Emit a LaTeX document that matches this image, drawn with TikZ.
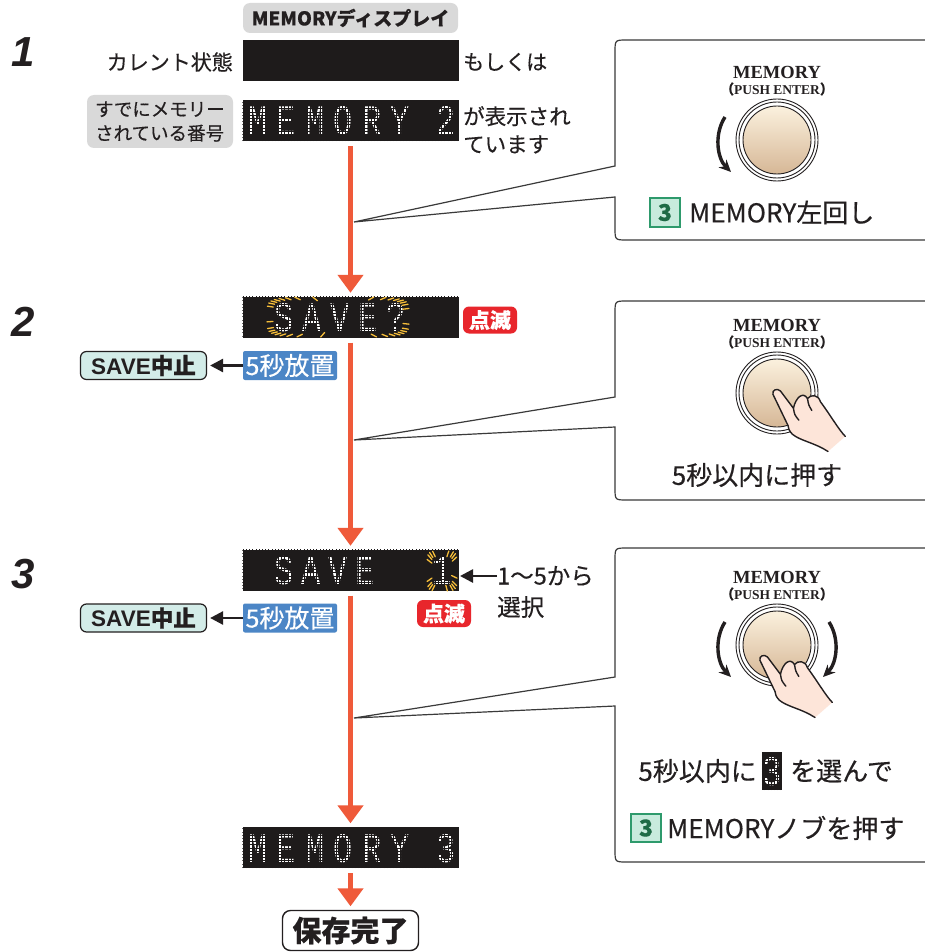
\documentclass[tikz,border=0pt]{standalone}
\usepackage{fontspec}
\usepackage{graphicx}
\usetikzlibrary{arrows.meta,calc}
\setmainfont{Noto Sans CJK JP}[FakeBold=0.35]
\newfontfamily\lcdface{Liberation Mono}
\newfontfamily\stepface{Liberation Sans}
\newfontfamily\serifface{Liberation Serif}

\definecolor{flow}{HTML}{EF5A3A}
\definecolor{lcdbg}{HTML}{1E1B1B}
\definecolor{tagbg}{HTML}{D9D9D9}
\definecolor{blink}{HTML}{E8262C}
\definecolor{waitbg}{HTML}{4C86C6}
\definecolor{cancelbg}{HTML}{D3ECE8}
\definecolor{keybg}{HTML}{C8EBDD}
\definecolor{keyline}{HTML}{2E9A6C}
\definecolor{keytext}{HTML}{1E6B46}
\definecolor{spark}{HTML}{F6BE3A}
\definecolor{skin}{HTML}{FDE5D9}
\definecolor{knobtop}{HTML}{FBF1DE}
\definecolor{knobbot}{HTML}{D6B796}
\definecolor{panelline}{HTML}{3A3A3A}
\definecolor{ink}{HTML}{231F20}

\newcommand\lcdsize{\lcdface\fontsize{42}{42}\selectfont}
\newcommand\lc[1]{\scalebox{0.76}[1]{#1}}
\newcommand\latinbold[1]{{\stepface\bfseries #1}}

\tikzset{
  lcd/.style={fill=lcdbg, minimum width=216pt, minimum height=41pt, inner sep=0pt},
  lcdch/.style={text=white, font=\lcdsize, anchor=base, inner sep=0pt},
  lbl/.style={font=\fontsize{21}{28}\selectfont, text=ink, inner sep=0pt},
  tagbox/.style={fill=tagbg, rounded corners=7pt, inner sep=0pt, text=ink},
  waitbox/.style={fill=waitbg, rounded corners=2pt, text=white, minimum width=94pt,
    minimum height=29pt, inner sep=0pt, font=\fontsize{25}{25}\selectfont},
  cancelbox/.style={fill=cancelbg, draw=ink, line width=1.2pt, rounded corners=6pt,
    minimum width=126pt, minimum height=28pt, inner sep=0pt, text=ink,
    font=\bfseries\fontsize{22.5}{22.5}\selectfont},
  blinkbox/.style={fill=blink, rounded corners=6pt, text=white, minimum width=54pt,
    minimum height=27pt, inner sep=0pt, font=\bfseries\fontsize{21}{21}\selectfont},
  flowline/.style={draw=flow, line width=5.5pt, -{Triangle[width=25pt,length=18pt]},
    shorten <=5pt, shorten >=3.5pt},
  backarrow/.style={draw=ink, line width=2.6pt, -{Triangle[width=13pt,length=13pt]}},
  stepno/.style={font=\stepface\bfseries\itshape\fontsize{42}{42}\selectfont, text=ink, inner sep=0pt},
  knobname/.style={font=\serifface\bfseries\fontsize{18.5}{18.5}\selectfont, text=ink, inner sep=0pt},
  knobsub/.style={font=\serifface\bfseries\fontsize{13.5}{13.5}\selectfont, text=ink, inner sep=0pt},
  knobring/.style={draw=ink, line width=0.9pt},
  turnarrow/.style={draw=ink, line width=3.4pt, -{Stealth[length=12pt,width=11pt]}},
  keybox/.style={fill=keybg, draw=keyline, line width=1.1pt, minimum width=30pt,
    minimum height=29pt, inner sep=0pt, text=keytext, font=\bfseries\fontsize{23}{23}\selectfont},
  caption/.style={font=\fontsize{26}{26}\selectfont, text=ink, inner sep=0pt},
  panelframe/.style={draw=panelline, line width=1.2pt},
  sparktick/.style={draw=spark, line width=1.3pt, line cap=round},
  handline/.style={draw=ink, line width=1.4pt, line join=round, line cap=round},
  donebox/.style={draw=ink, line width=1.4pt, rounded corners=8pt, fill=white,
    minimum width=136pt, minimum height=40pt, inner sep=0pt, text=ink,
    font=\bfseries\fontsize{29}{29}\selectfont}
}

% dot matrix raster laid over the characters of a display
\newcommand\dotraster[1]{%
  \begin{scope}
    \clip (#1.south west) rectangle (#1.north east);
    \draw[lcdbg, line width=0.85pt, step=3.2pt] (#1.south west) grid (#1.north east);
  \end{scope}}

% blinking rays around a point: centre x, centre y, half width, half height, angle step, ray length
\newcommand\sparkle[6]{%
  \foreach \t in {3,#5,...,359} {
    \pgfmathsetmacro\cs{cos(\t)}
    \pgfmathsetmacro\sn{sin(\t)}
    \pgfmathsetmacro\dx{#3*sign(\cs)*pow(abs(\cs),0.35)}
    \pgfmathsetmacro\dy{#4*sign(\sn)*pow(abs(\sn),0.35)}
    \pgfmathsetmacro\ln{veclen(\dx,\dy)}
    \draw[sparktick] ({#1+\dx*(1-#6/\ln)},{#2+\dy*(1-#6/\ln)}) -- ({#1+\dx},{#2+\dy});
  }}

% knob with its rings
\newcommand\knob[1]{%
  \draw[knobring, fill=white] (#1) circle[radius=41pt];
  \draw[knobring] (#1) circle[radius=38pt];
  \draw[knobring, top color=knobtop, bottom color=knobbot] (#1) circle[radius=34pt];}

\newcommand\turnleft[1]{%
  \draw[turnarrow] ($(#1)+(-52,-23)$) .. controls ($(#1)+(-63,-6)$) and ($(#1)+(-60,18)$) .. ($(#1)+(-46,32)$);}
\newcommand\turnright[1]{%
  \draw[turnarrow] ($(#1)+(52,-23)$) .. controls ($(#1)+(63,-6)$) and ($(#1)+(60,18)$) .. ($(#1)+(46,32)$);}

% pointing hand, fingertip at the given point
\newcommand\handat[2]{%
  \begin{scope}[shift={(#1,#2)}, scale=1.08]
    \fill[skin] (-1,3) .. controls (-2,-1) and (3,-3) .. (6,0) -- (18,16)
      .. controls (20,6) and (27,0) .. (31,7) .. controls (34,3) and (41,3) .. (43,10)
      .. controls (52,22) and (60,36) .. (66,42) -- (50,56)
      .. controls (38,48) and (24,46) .. (17,40) .. controls (14,37) and (13,34) .. (13,32) -- cycle;
    \draw[handline] (50,56) .. controls (38,48) and (24,46) .. (17,40)
      .. controls (14,37) and (13,34) .. (13,32) -- (-1,3)
      .. controls (-2,-1) and (3,-3) .. (6,0) -- (18,16)
      .. controls (20,6) and (27,0) .. (31,7) .. controls (34,3) and (41,3) .. (43,10)
      .. controls (52,22) and (60,36) .. (66,42);
    \draw[handline] (18,16) .. controls (19,22) .. (23,27);
    \draw[handline] (31,7) .. controls (32,13) .. (35,18);
  \end{scope}}

% callout frame: top, bottom, upper tail y, lower tail y, tail tip
\newcommand\calloutframe[5]{%
  \draw[panelframe, fill=white] (935,#1) -- (627,#1) .. controls (615,#1) .. (615,#1+12)
    -- (615,#3) -- (#5) -- (615,#4) -- (615,#2-12) .. controls (615,#2) .. (627,#2) -- (935,#2);}

\begin{document}
\begin{tikzpicture}[x=1pt,y=-1pt]
\useasboundingbox (0,0) rectangle (925,952);
\fill[white] (0,0) rectangle (925,952);

% ---------- step numbers ----------
\node[stepno] (n1) at (23,52) {1};
\node[stepno] (n2) at (23,322) {2};
\node[stepno] (n3) at (23,574) {3};

% ---------- step 1 ----------
\node[tagbox, minimum width=215pt, minimum height=30pt, font=\bfseries\fontsize{19}{19}\selectfont] (hdr) at (350.5,18) {MEMORYディスプレイ};
\node[lcd] (d1) at (350.5,60.5) {};
\node[lbl, anchor=east] (cur) at (233,62) {カレント状態};
\node[lbl, anchor=west] (alt) at (463,62) {もしくは};
\node[tagbox, minimum width=146pt, minimum height=53pt, align=left, font=\fontsize{18.5}{24}\selectfont] (stored) at (160,121.5) {すでにメモリー\\されている番号};
\node[lcd] (d2) at (350.5,120.5) {};
\foreach \c [count=\i] in {M,E,M,O,R,Y}
  \node[lcdch] (d2c\i) at ({258+(\i-1)*28.5},135) {\lc{\c}};
\node[lcdch] (d2n) at (446,135) {\lc{2}};
\dotraster{d2}
\node[lbl, anchor=north west, align=left, font=\fontsize{21.5}{28}\selectfont] (shown) at (463,106) {が表示され\\ています};

% ---------- step 2 ----------
\node[lcd] (d3) at (350.5,317) {};
\foreach \c [count=\i] in {S,A,V,E,?}
  \node[lcdch] (d3c\i) at ({284+(\i-1)*28},331) {\lc{\c}};
\dotraster{d3}
\sparkle{338}{317}{71}{20}{14}{6}
\node[blinkbox] (b2) at (490,320) {点滅};
\node[waitbox] (w2) at (290,365.5) {5秒放置};
\node[cancelbox] (c2) at (143.5,365.5) {\latinbold{SAVE}中止};
\draw[backarrow] (w2.west) -- ([xshift=3pt]c2.east);

% ---------- step 3 ----------
\node[lcd] (d4) at (350.5,570) {};
\foreach \c [count=\i] in {S,A,V,E}
  \node[lcdch] (d4c\i) at ({284+(\i-1)*27},584) {\lc{\c}};
\node[lcdch] (d4n) at (442,584) {\lc{1}};
\dotraster{d4}
\sparkle{442}{571}{15}{20}{24}{6}
\node[lbl, anchor=west, font=\fontsize{23.5}{23.5}\selectfont] (pick) at (497,576) {1〜5から};
\node[lbl, anchor=west, font=\fontsize{23.5}{23.5}\selectfont] (pick2) at (497,607) {選択};
\coordinate (pickend) at (460,576);
\draw[backarrow] (pick.west) -- (pickend);
\node[blinkbox] (b3) at (444,613.5) {点滅};
\node[waitbox] (w3) at (290,618) {5秒放置};
\node[cancelbox] (c3) at (143.5,618) {\latinbold{SAVE}中止};
\draw[backarrow] (w3.west) -- ([xshift=3pt]c3.east);

% ---------- result ----------
\node[lcd] (d5) at (350.5,847.5) {};
\foreach \c [count=\i] in {M,E,M,O,R,Y}
  \node[lcdch] (d5c\i) at ({258+(\i-1)*28.5},862) {\lc{\c}};
\node[lcdch] (d5n) at (446,862) {\lc{3}};
\dotraster{d5}
\node[donebox] (done) at (350.5,930.5) {保存完了};

% ---------- flow ----------
\draw[flowline] (d2.south) -- (d3.north);
\draw[flowline] (d3.south) -- (d4.north);
\draw[flowline] (d4.south) -- (d5.north);
\draw[flowline] (d5.south) -- (done.north);

\coordinate (tip1) at (354,222);
\coordinate (tip2) at (354,440);
\coordinate (tip3) at (354,718);

% ---------- callout 1: turn left ----------
\calloutframe{40}{240}{166}{197}{tip1}
\node[knobname] (k1t) at (777,72) {MEMORY};
\node[knobsub] (k1s) at (777,89) {{\rmfamily （}PUSH ENTER{\rmfamily ）}};
\coordinate (k1) at (777,140);
\knob{k1}
\turnleft{k1}
\node[keybox] (key1) at (665,212.5) {3};
\node[caption, anchor=west] (cap1) at (689,212.5) {MEMORY左回し};

% ---------- callout 2: press ----------
\calloutframe{301}{500}{397}{427}{tip2}
\node[knobname] (k2t) at (777,325) {MEMORY};
\node[knobsub] (k2s) at (777,342) {{\rmfamily （}PUSH ENTER{\rmfamily ）}};
\coordinate (k2) at (777,393);
\knob{k2}
\handat{774}{391}
\node[caption] (cap2) at (757,475) {5秒以内に押す};

% ---------- callout 3: choose and press ----------
\calloutframe{548}{862}{677}{706}{tip3}
\node[knobname] (k3t) at (777,577) {MEMORY};
\node[knobsub] (k3s) at (777,594) {{\rmfamily （}PUSH ENTER{\rmfamily ）}};
\coordinate (k3) at (777,645);
\knob{k3}
\turnleft{k3}
\turnright{k3}
\handat{761}{657}
\node[caption, anchor=east] (cap3a) at (757,771) {5秒以内に};
\node[lcd, minimum width=20pt, minimum height=38pt] (d6) at (772,771) {};
\node[lcdch] (d6n) at (772,785) {\lc{3}};
\dotraster{d6}
\node[caption, anchor=west] (cap3b) at (790,771) {を選んで};
\node[keybox, minimum height=28pt] (key3) at (646,828) {3};
\node[caption, anchor=west] (cap3c) at (667,828) {MEMORYノブを押す};

\end{tikzpicture}
\end{document}
